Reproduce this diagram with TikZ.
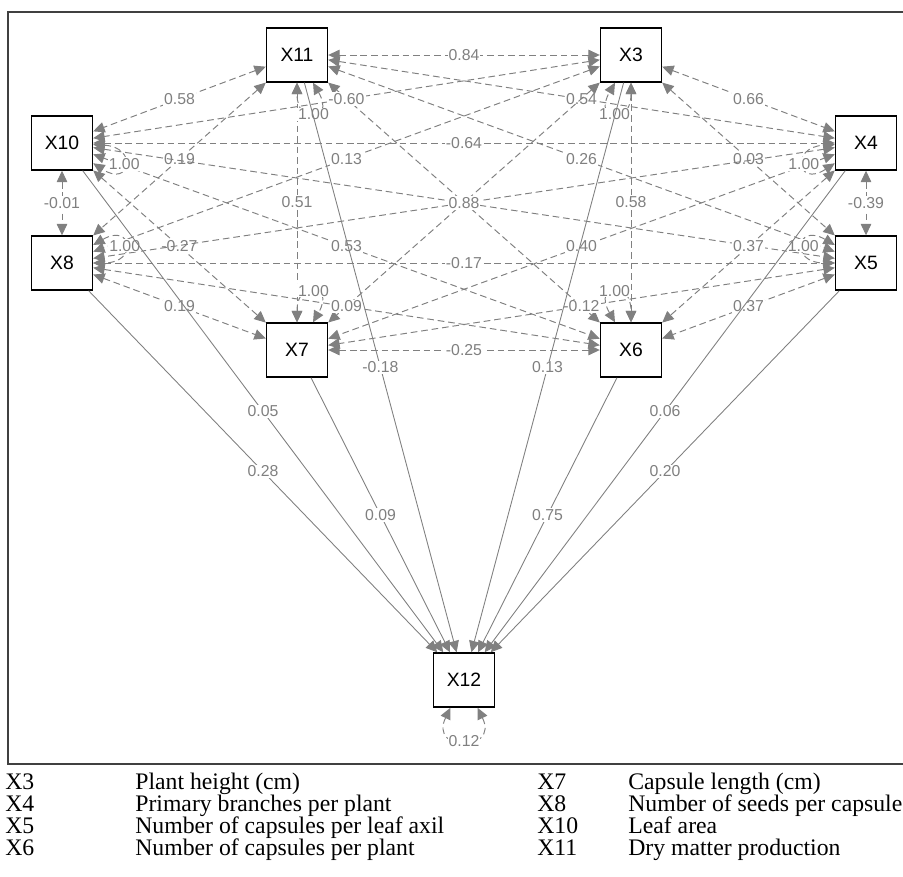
\documentclass[tikz,border=0pt]{standalone}
\usepackage{fontspec}
\setmainfont{Liberation Serif}
\newfontfamily\arialfont{Liberation Sans}
\usetikzlibrary{arrows.meta}

\tikzset{
    var/.style={draw=black, line width=0.8pt, fill=white, inner sep=0pt,
        minimum width=1.22cm, minimum height=1.08cm,
        font=\arialfont\fontsize{11}{12}\selectfont},
    cov/.style={draw=gray, line width=0.55pt, dash pattern=on 3.8pt off 2.2pt,
        {Triangle[length=6.5pt,width=6pt]}-{Triangle[length=6.5pt,width=6pt]}},
    reg/.style={draw=gray, line width=0.5pt, -{Triangle[length=6.5pt,width=6pt]}},
    elab/.style={fill=white, inner sep=0.6pt, text=gray,
        font=\arialfont\fontsize{9}{10}\selectfont},
    legend/.style={anchor=base west, inner sep=0pt, font=\fontsize{13.5}{15}\selectfont}
}

\begin{document}
\begin{tikzpicture}[x=0.02cm, y=-0.02cm]
    \useasboundingbox (0,0) rectangle (903,876);
    \draw[black!75, line width=0.6pt] (8,12) rectangle (920,764);

    \node[var] (X11) at (297,55) {X11};
    \node[var] (X3) at (631,55) {X3};
    \node[var] (X10) at (62,143) {X10};
    \node[var] (X4) at (866,143) {X4};
    \node[var] (X8) at (62,263) {X8};
    \node[var] (X5) at (866,263) {X5};
    \node[var] (X7) at (297,350) {X7};
    \node[var] (X6) at (631,350) {X6};
    \node[var] (X12) at (464,680) {X12};

    % covariances
    \draw[cov] (X11) -- node[elab]{0.84} (X3);
    \draw[cov] (X11) -- node[elab]{0.58} (X10);
    \draw[cov] (X11) -- node[elab]{0.54} (X4);
    \draw[cov] (X11) -- node[elab]{0.19} (X8);
    \draw[cov] (X11) -- node[elab]{0.26} (X5);
    \draw[cov] (X11) -- node[elab]{0.51} (X7);
    \draw[cov] (X11) -- node[elab]{0.33} (X6);
    \draw[cov] (X3) -- node[elab]{-0.60} (X10);
    \draw[cov] (X3) -- node[elab]{0.66} (X4);
    \draw[cov] (X3) -- node[elab]{0.13} (X8);
    \draw[cov] (X3) -- node[elab]{0.03} (X5);
    \draw[cov] (X3) -- node[elab]{0.38} (X7);
    \draw[cov] (X3) -- node[elab]{0.58} (X6);
    \draw[cov] (X10) -- node[elab]{-0.64} (X4);
    \draw[cov] (X10) -- node[elab]{-0.01} (X8);
    \draw[cov] (X10) -- node[elab]{0.58} (X5);
    \draw[cov] (X10) -- node[elab]{-0.27} (X7);
    \draw[cov] (X10) -- node[elab]{0.53} (X6);
    \draw[cov] (X4) -- node[elab]{0.88} (X8);
    \draw[cov] (X4) -- node[elab]{-0.39} (X5);
    \draw[cov] (X4) -- node[elab]{0.40} (X7);
    \draw[cov] (X4) -- node[elab]{0.37} (X6);
    \draw[cov] (X8) -- node[elab]{-0.17} (X5);
    \draw[cov] (X8) -- node[elab]{0.19} (X7);
    \draw[cov] (X8) -- node[elab]{0.09} (X6);
    \draw[cov] (X5) -- node[elab]{-0.12} (X7);
    \draw[cov] (X5) -- node[elab]{0.37} (X6);
    \draw[cov] (X7) -- node[elab]{-0.25} (X6);

    % variances
    \foreach \n/\a/\b in {X11/-60/-90, X3/-90/-120, X10/-3/-33, X4/-147/-177,
        X8/30/0, X5/150/180, X7/90/60, X6/120/90}
{
    \draw[cov] (\n.\a) .. controls +(\a:0.9cm) and +(\b:0.9cm) .. node[elab]{1.00} (\n.\b);
}
    \draw[cov] (X12.-64) .. controls +(-64:1cm) and +(-116:1cm) .. node[elab]{0.12} (X12.-116);

    % regressions
    \draw[reg] (X10) -- node[elab]{0.05} (X12);
    \draw[reg] (X8) -- node[elab]{0.28} (X12);
    \draw[reg] (X11) -- node[elab]{-0.18} (X12);
    \draw[reg] (X7) -- node[elab]{0.09} (X12);
    \draw[reg] (X3) -- node[elab]{0.13} (X12);
    \draw[reg] (X6) -- node[elab]{0.75} (X12);
    \draw[reg] (X4) -- node[elab]{0.06} (X12);
    \draw[reg] (X5) -- node[elab]{0.20} (X12);

    % legend
    \node[legend] (L3) at (5,789) {X3};
    \node[legend] (D3) at (135,789) {Plant height (cm)};
    \node[legend] (L4) at (5,811) {X4};
    \node[legend] (D4) at (135,811) {Primary branches per plant};
    \node[legend] (L5) at (5,833) {X5};
    \node[legend] (D5) at (135,833) {Number of capsules per leaf axil};
    \node[legend] (L6) at (5,855) {X6};
    \node[legend] (D6) at (135,855) {Number of capsules per plant};
    \node[legend] (L7) at (537,789) {X7};
    \node[legend] (D7) at (628,789) {Capsule length (cm)};
    \node[legend] (L8) at (537,811) {X8};
    \node[legend] (D8) at (628,811) {Number of seeds per capsule};
    \node[legend] (L10) at (537,833) {X10};
    \node[legend] (D10) at (628,833) {Leaf area};
    \node[legend] (L11) at (537,855) {X11};
    \node[legend] (D11) at (628,855) {Dry matter production};
\end{tikzpicture}
\end{document}
